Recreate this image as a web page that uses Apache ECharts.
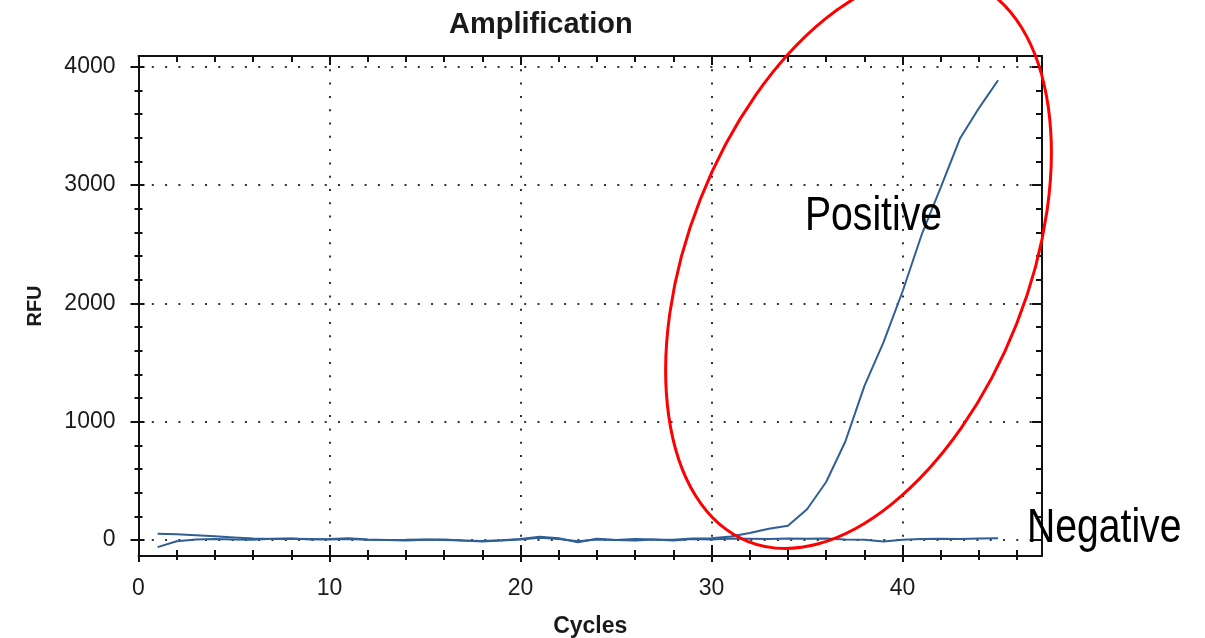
<!DOCTYPE html>
<html>
<head>
<meta charset="utf-8">
<script src="https://cdn.jsdelivr.net/npm/echarts@6/dist/echarts.min.js"></script>
<style>html,body{margin:0;padding:0;background:#fff}#chart{width:1205px;height:638px}</style>
</head>
<body>
<div id="chart"></div>
<script>
// qPCR amplification curves
const cycles = [1,2,3,4,5,6,7,8,9,10,11,12,13,14,15,16,17,18,19,20,21,22,23,24,25,26,27,28,29,30,31,32,33,34,35,36,37,38,39,40,41,42,43,44,45];
const positiveRfu = [52,48,40,32,22,12,8,10,8,5,8,3,0,2,5,0,-5,-12,-5,5,20,8,-10,5,0,8,5,3,12,15,30,60,95,120,260,490,830,1300,1670,2100,2580,2980,3390,3650,3885];
const negativeRfu = [-60,-10,5,8,5,3,10,12,5,8,15,5,0,-3,3,5,-3,-8,-2,8,28,15,-18,10,0,-5,5,-5,8,5,12,10,8,12,10,12,5,3,-12,2,8,10,8,12,15];

const xMajorTicks = [0,10,20,30,40];
const xMinorTicks = [2,4,6,8,12,14,16,18,22,24,26,28,32,34,36,38,42,44,46];
const yMajorTicks = [0,1000,2000,3000,4000];
const yMinorTicks = [200,400,600,800,1200,1400,1600,1800,2200,2400,2600,2800,3200,3400,3600,3800];

const X_RANGE = [0, 47.3];
const Y_RANGE = [-135, 4090];
const INK = '#111';
const FONT = 'Liberation Sans, Arial, sans-serif';

// extra axes that only carry tick marks (inside / outside, major / minor)
function tickAxis(kind, position, values, len, inside, showLine) {
    const range = kind === 'x' ? X_RANGE : Y_RANGE;
    return {
        type: 'value', position, min: range[0], max: range[1],
        axisLine: { show: !!showLine, onZero: false, lineStyle: { color: INK, width: 2 } },
        axisTick: { show: true, inside, length: len, customValues: values, lineStyle: { color: INK, width: 2 } },
        axisLabel: { show: false }, splitLine: { show: false }
    };
}

const dotted = { color: '#333', width: 2, type: [2, 11.3] };
const noteStyle = { fontSize: 48, fontFamily: FONT, fill: '#000', verticalAlign: 'middle' };

const chart = echarts.init(document.getElementById('chart'));
chart.setOption({
    backgroundColor: '#fff',
    animation: false,
    title: { text: 'Amplification', left: 444, top: 5,
        textStyle: { fontSize: 29, fontWeight: 'bold', color: '#1a1a1a', fontFamily: FONT } },
    grid: { left: 138.5, right: 163, top: 56, bottom: 82, outerBoundsMode: 'none' },
    xAxis: [
        { type: 'value', position: 'bottom', min: X_RANGE[0], max: X_RANGE[1],
          name: 'Cycles', nameLocation: 'middle', nameGap: 59,
          nameTextStyle: { fontSize: 23, fontWeight: 'bold', color: '#1a1a1a', fontFamily: FONT },
          axisLine: { onZero: false, lineStyle: { color: INK, width: 2 } },
          axisTick: { length: 6, customValues: xMajorTicks, lineStyle: { color: INK, width: 2 } },
          axisLabel: { customValues: xMajorTicks, margin: 21, fontSize: 23, color: '#1a1a1a', fontFamily: FONT },
          splitLine: { show: true, lineStyle: dotted } },
        tickAxis('x', 'bottom', xMajorTicks, 11, true),
        tickAxis('x', 'bottom', xMinorTicks, 4, false),
        tickAxis('x', 'bottom', xMinorTicks, 6, true),
        tickAxis('x', 'top', xMajorTicks, 9, true, true),
        tickAxis('x', 'top', xMinorTicks, 6, true)
    ],
    yAxis: [
        { type: 'value', position: 'left', min: Y_RANGE[0], max: Y_RANGE[1],
          name: 'RFU', nameLocation: 'middle', nameGap: 93,
          nameTextStyle: { fontSize: 20, fontWeight: 'bold', color: '#1a1a1a', fontFamily: FONT },
          axisLine: { show: true, onZero: false, lineStyle: { color: INK, width: 2 } },
          axisTick: { length: 8, customValues: yMajorTicks, lineStyle: { color: INK, width: 2 } },
          axisLabel: { customValues: yMajorTicks, margin: 23, fontSize: 23, color: '#1a1a1a', fontFamily: FONT,
                       formatter: v => String(v) },
          splitLine: { show: true, lineStyle: dotted } },
        tickAxis('y', 'left', yMajorTicks, 6, true),
        tickAxis('y', 'left', yMinorTicks, 4, false),
        tickAxis('y', 'left', yMinorTicks, 4, true),
        tickAxis('y', 'right', yMajorTicks, 10, true, true),
        tickAxis('y', 'right', yMinorTicks, 6, true)
    ],
    series: [
        { name: 'Positive', type: 'line', showSymbol: false, z: 5,
          data: cycles.map((c, i) => [c, positiveRfu[i]]),
          lineStyle: { color: '#2f5f96', width: 2 } },
        { name: 'Negative', type: 'line', showSymbol: false, z: 5,
          data: cycles.map((c, i) => [c, negativeRfu[i]]),
          lineStyle: { color: '#2f5f96', width: 2 } }
    ],
    graphic: [
        { type: 'ellipse', x: 858.5, y: 261.5, rotation: -21.5 * Math.PI / 180, z: 100,
          shape: { cx: 0, cy: 0, rx: 170, ry: 301 },
          style: { fill: 'none', stroke: '#ff0000', lineWidth: 3 } },
        { type: 'text', x: 805, y: 217, scaleX: 0.815, z: 101,
          style: Object.assign({ text: 'Positive' }, noteStyle) },
        { type: 'text', x: 1027, y: 529, scaleX: 0.815, z: 101,
          style: Object.assign({ text: 'Negative' }, noteStyle) }
    ]
});
</script>
</body>
</html>
